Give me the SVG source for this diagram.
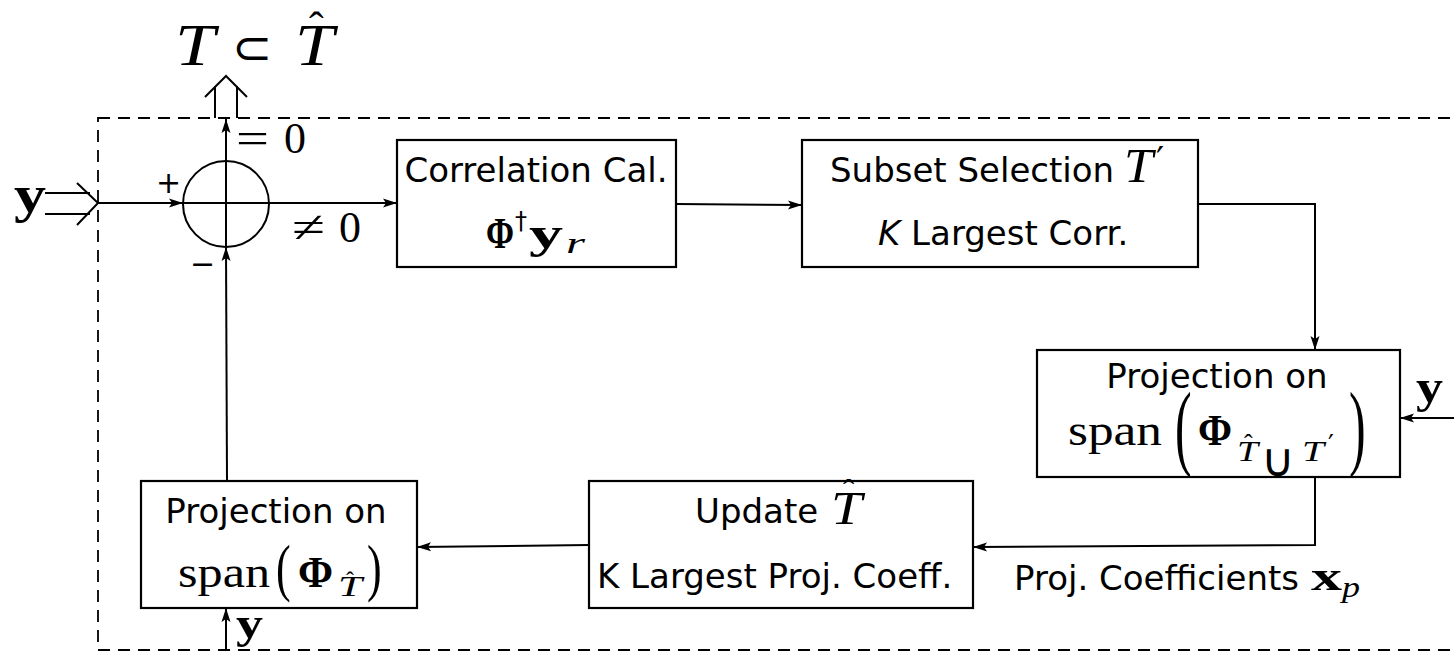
<svg xmlns="http://www.w3.org/2000/svg" width="1454" height="652" viewBox="0 0 1454 652">
<style>
.box{fill:#fff;stroke:#000;stroke-width:2.2}
.ln{fill:none;stroke:#000;stroke-width:2}
.dash{fill:none;stroke:#000;stroke-width:1.8;stroke-dasharray:12,8}
.lbl{font-family:"DejaVu Sans",sans-serif;font-size:34px;fill:#000}
.m{font-family:"Liberation Serif","DejaVu Serif",serif;fill:#000}
.mi{font-family:"Liberation Serif","DejaVu Serif",serif;font-style:italic;fill:#000}
.mb{font-family:"Liberation Serif","DejaVu Serif",serif;font-weight:bold;fill:#000}
.sym{font-family:"DejaVu Sans",sans-serif;fill:#000}
</style>
<defs>
<marker id="ah" markerUnits="userSpaceOnUse" markerWidth="18" markerHeight="12" refX="16" refY="6" orient="auto">
<path d="M2,1.5 L16,6 L2,10.5 L5,6 z" fill="#000"/>
</marker>
</defs>

<rect class="dash" x="98" y="118" width="1400" height="532"/>

<g id="connectors">
<path class="ln" d="M45,193 H90 M45,214 H90 M77,183 L98,203 L77,225"/>
<path class="ln" d="M98,203 H183" marker-end="url(#ah)"/>
<path class="ln" d="M183,203 H397" marker-end="url(#ah)"/>
<path class="ln" d="M226,247 V119" marker-end="url(#ah)"/>
<path class="ln" d="M215,118 V86 M237,118 V86 M205,97 L226,76 L247,97"/>
<path class="ln" d="M227,481 L226,247" marker-end="url(#ah)"/>
<path class="ln" d="M676,204 L802,205" marker-end="url(#ah)"/>
<path class="ln" d="M1198,204 H1315 V350" marker-end="url(#ah)"/>
<path class="ln" d="M1454,418 H1400" marker-end="url(#ah)"/>
<path class="ln" d="M1315,477 V545 L973,547" marker-end="url(#ah)"/>
<path class="ln" d="M589,545 L417,547" marker-end="url(#ah)"/>
<path class="ln" d="M226,650 V608" marker-end="url(#ah)"/>
</g>

<g id="sum">
<circle class="ln" cx="226" cy="204" r="43"/>
<text class="sym" x="156" y="193" font-size="30">+</text>
<text class="sym" x="190" y="274" font-size="30">−</text>
<text class="m" x="236" y="153" font-size="44" textLength="33" lengthAdjust="spacingAndGlyphs">=</text>
<text class="m" x="284" y="153" font-size="44">0</text>
<text class="m" x="292" y="242" font-size="44" textLength="33" lengthAdjust="spacingAndGlyphs">≠</text>
<text class="m" x="339" y="242" font-size="44">0</text>
</g>

<g id="output">
<text class="mi" x="175" y="65" font-size="60" textLength="40" lengthAdjust="spacingAndGlyphs">T</text>
<text class="sym" x="232" y="64" font-size="48">⊂</text>
<text class="mi" x="295" y="65" font-size="60" textLength="39" lengthAdjust="spacingAndGlyphs">T</text>
<text class="m" x="309" y="42" font-size="44">ˆ</text>
</g>

<g id="input-y">
<text class="mb" x="14" y="212" font-size="52" textLength="32" lengthAdjust="spacingAndGlyphs">y</text>
</g>

<g id="correlation">
<rect class="box" x="397" y="140" width="279" height="127"/>
<text class="lbl" x="536" y="182" text-anchor="middle">Correlation Cal.</text>
<text class="mb" x="486" y="248" font-size="45" textLength="28" lengthAdjust="spacingAndGlyphs">Φ</text>
<text class="sym" x="515" y="229" font-size="24">†</text>
<text class="mb" x="529" y="248" font-size="44" textLength="34" lengthAdjust="spacingAndGlyphs">y</text>
<text class="mi" x="566" y="253" font-size="30" textLength="19" lengthAdjust="spacingAndGlyphs">r</text>
</g>

<g id="subset">
<rect class="box" x="802" y="140" width="396" height="127"/>
<text class="lbl" x="830" y="182" font-size="33">Subset Selection</text>
<text class="mi" x="1124" y="182" font-size="48" textLength="29" lengthAdjust="spacingAndGlyphs">T</text>
<text class="sym" x="1156" y="172" font-size="36">′</text>
<text class="lbl" x="878" y="245" font-size="33"><tspan font-style="italic">K</tspan> Largest Corr.</text>
</g>

<g id="projection-union">
<rect class="box" x="1037" y="350" width="363" height="127"/>
<text class="lbl" x="1217" y="388" text-anchor="middle">Projection on</text>
<text class="m" x="1068" y="445" font-size="44" textLength="94" lengthAdjust="spacingAndGlyphs">span</text>
<text class="m" transform="translate(1175,458) scale(1,1.9)" font-size="50">(</text>
<text class="mb" x="1198" y="445" font-size="45" textLength="34" lengthAdjust="spacingAndGlyphs">Φ</text>
<text class="mi" x="1237" y="461" font-size="30" textLength="21" lengthAdjust="spacingAndGlyphs">T</text>
<text class="m" x="1244" y="452" font-size="26">ˆ</text>
<text class="sym" x="1261" y="476" font-size="46">∪</text>
<text class="mi" x="1302" y="461" font-size="30" textLength="22" lengthAdjust="spacingAndGlyphs">T</text>
<text class="sym" x="1328" y="454" font-size="26">′</text>
<text class="m" transform="translate(1349,458) scale(1,1.9)" font-size="50">)</text>
</g>
<text class="mb" x="1416" y="402" font-size="46" textLength="27" lengthAdjust="spacingAndGlyphs">y</text>

<g id="update">
<rect class="box" x="589" y="481" width="384" height="127"/>
<text class="lbl" x="695" y="523">Update</text>
<text class="mi" x="831" y="524" font-size="46" textLength="31" lengthAdjust="spacingAndGlyphs">T</text>
<text class="m" x="843" y="503" font-size="34">ˆ</text>
<text class="lbl" x="597" y="588">K Largest Proj. Coeff.</text>
</g>
<g id="coeff-label">
<text class="lbl" x="1014" y="590">Proj. Coefficients</text>
<text class="mb" x="1311" y="590" font-size="42" textLength="31" lengthAdjust="spacingAndGlyphs">x</text>
<text class="mi" x="1342" y="597" font-size="30" textLength="18" lengthAdjust="spacingAndGlyphs">p</text>
</g>

<g id="projection-hat">
<rect class="box" x="141" y="481" width="276" height="127"/>
<text class="lbl" x="276" y="523" text-anchor="middle">Projection on</text>
<text class="m" x="178" y="587" font-size="44" textLength="92" lengthAdjust="spacingAndGlyphs">span</text>
<text class="m" transform="translate(276,589) scale(1,1.45)" font-size="44">(</text>
<text class="mb" x="298" y="587" font-size="45" textLength="35" lengthAdjust="spacingAndGlyphs">Φ</text>
<text class="mi" x="338" y="596" font-size="30" textLength="24" lengthAdjust="spacingAndGlyphs">T</text>
<text class="m" x="346" y="588" font-size="24">ˆ</text>
<text class="m" transform="translate(367,589) scale(1,1.45)" font-size="44">)</text>
</g>
<text class="mb" x="236" y="638" font-size="44" textLength="27" lengthAdjust="spacingAndGlyphs">y</text>
</svg>
